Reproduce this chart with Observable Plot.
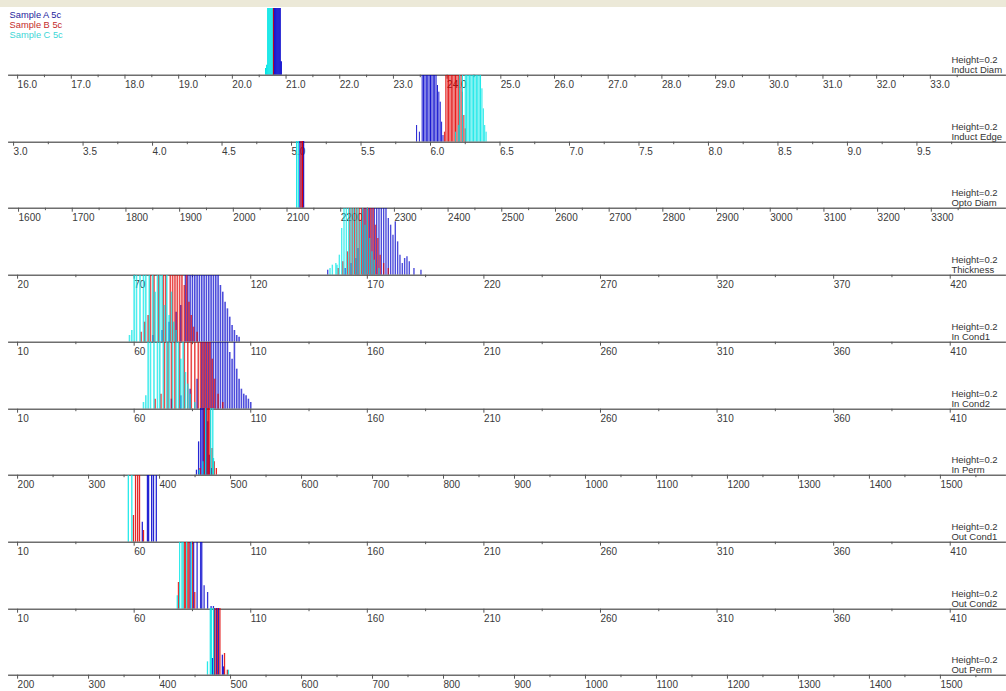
<!DOCTYPE html>
<html><head><meta charset="utf-8">
<script src="https://cdn.jsdelivr.net/npm/d3@7"></script>
<script src="https://cdn.jsdelivr.net/npm/@observablehq/plot@0.6"></script>
<style>
html,body{margin:0;padding:0;background:#fff;}
#chart{position:relative;width:1006px;height:691px;overflow:hidden;font-family:"Liberation Sans",Arial,sans-serif;}
#band{position:absolute;left:0;top:0;width:1006px;height:7px;background:#ece9d8;}
#chart svg{position:absolute;left:0;}
</style></head><body><div id="chart"><div id="band"></div></div>
<script>
// ---------- legend / labels ----------
const samples = ["Sample A 5c", "Sample B 5c", "Sample C 5c"];
const sampleColors = ["#0000cc", "#e00000", "#00e5e5"];
const legendColors = ["#23239c", "#c42a2a", "#3cd6d6"];
const heightLabel = "Height=0.2";
const yMax = 0.2;

// ---------- tick labels ----------
const ticksInductDiam = [16,17,18,19,20,21,22,23,24,25,26,27,28,29,30,31,32,33];
const ticksInductEdge = [3.0,3.5,4.0,4.5,5.0,5.5,6.0,6.5,7.0,7.5,8.0,8.5,9.0,9.5];
const ticksOptoDiam = [1600,1700,1800,1900,2000,2100,2200,2300,2400,2500,2600,2700,2800,2900,3000,3100,3200,3300];
const ticksThickness = [20,70,120,170,220,270,320,370,420];
const ticksCond = [10,60,110,160,210,260,310,360,410];
const ticksPerm = [200,300,400,500,600,700,800,900,1000,1100,1200,1300,1400,1500];

// ---------- series: [value, height] ----------
const inductDiamA = [[20.77,.2],[20.79,.2],[20.81,.2],[20.83,.2],[20.85,.2],[20.87,.2],[20.89,.2],[20.91,.04]];
const inductDiamB = [[20.76,.2]];
const inductDiamC = [[20.62,.02],[20.64,.03],[20.66,.2],[20.68,.2],[20.70,.2],[20.72,.2],[20.74,.2]];

const inductEdgeA = [[5.90,.05],[5.92,.03],[5.94,.2],[5.95,.2],[5.96,.2],[5.97,.2],[5.98,.2],[5.99,.2],[6.00,.2],[6.01,.2],[6.02,.2],[6.03,.2],[6.04,.2],[6.05,.17],[6.06,.15],[6.07,.12],[6.08,.06],[6.09,.02]];
const inductEdgeB = [[6.10,.03],[6.11,.2],[6.12,.2],[6.13,.2],[6.14,.2],[6.15,.2],[6.16,.2],[6.17,.2],[6.18,.2],[6.19,.2],[6.20,.2],[6.21,.2],[6.22,.2],[6.23,.15],[6.24,.08],[6.25,.04]];
const inductEdgeC = [[6.18,.03],[6.20,.05],[6.21,.2],[6.23,.2],[6.25,.2],[6.26,.2],[6.27,.2],[6.28,.2],[6.29,.2],[6.30,.2],[6.31,.2],[6.32,.2],[6.33,.2],[6.34,.2],[6.35,.2],[6.36,.2],[6.37,.16],[6.38,.1],[6.39,.05],[6.40,.03]];

const optoDiamA = [[2124,.2],[2128,.2],[2131,.2]];
const optoDiamB = [[2126,.2],[2129,.2]];
const optoDiamC = [[2118,.2],[2121,.2]];

const thicknessA = [[153,.015],[160.5,.02],[163,.035],[165,.05],[166,.08],[168,.2],[169,.2],[170,.2],[171,.2],[172,.2],[173,.2],[174,.2],[175,.2],[176,.2],[177,.2],[178,.2],[179,.17],[180,.15],[181,.12],[182,.16],[183,.1],[184,.06],[185,.035],[186,.05],[187,.055],[188,.04],[190,.02],[193,.015]];
const thicknessB = [[157.5,.02],[159.5,.04],[161.5,.07],[162.5,.2],[163.5,.2],[164.5,.2],[165.5,.2],[166.5,.2],[167.5,.2],[168.5,.2],[169.5,.2],[170.5,.2],[171.5,.2],[172.5,.2],[173.5,.15],[174.5,.11],[175.5,.06],[177,.035],[179,.02]];
const thicknessC = [[154,.02],[155,.03],[156.5,.035],[157,.03],[158,.06],[159,.14],[160,.2],[161,.2],[162,.2],[163,.2],[164,.2],[165,.2],[166,.2],[167,.16],[168,.2],[169,.15],[170,.2],[171,.11],[172,.07],[173,.045],[175,.02]];

const inCond1A = [[68,.02],[72,.035],[75,.06],[78,.09],[80,.11],[82,.2],[83,.2],[84,.2],[85,.2],[86,.2],[87,.2],[88,.2],[89,.2],[90,.2],[91,.2],[92,.2],[93,.2],[94,.2],[95,.2],[96,.2],[97,.17],[98,.15],[99,.12],[100,.1],[101,.075],[102,.05],[103,.035],[104,.02],[105,.015]];
const inCond1B = [[63,.03],[64.5,.06],[66,.08],[67,.2],[68.5,.2],[70.5,.2],[72.5,.2],[73.5,.2],[75.5,.2],[76.5,.2],[77.5,.2],[78.5,.2],[79.5,.2],[80.5,.2],[81.5,.17],[82.5,.2],[83.5,.12],[84.5,.08],[85.5,.045],[87,.03]];
const inCond1C = [[58,.02],[59,.035],[60,.2],[61,.2],[62.5,.2],[64,.2],[65,.2],[66.5,.2],[68,.2],[69,.15],[70,.2],[71,.2],[72,.2],[73,.11],[74,.2],[75,.08],[76,.15],[77,.06],[78,.035]];

const inCond2A = [[76,.03],[80,.04],[84,.06],[87,.09],[89,.2],[90,.2],[91,.2],[92,.2],[93,.2],[94,.2],[95,.2],[96,.2],[97,.2],[98,.2],[99,.2],[100,.2],[101,.17],[102,.15],[103,.2],[104,.12],[105,.09],[106,.06],[107,.045],[108,.04],[109,.03],[110,.02]];
const inCond2B = [[69,.03],[71.5,.045],[73,.2],[74.5,.2],[76,.2],[77.5,.2],[79.5,.2],[81.5,.2],[83,.2],[84.5,.2],[86,.2],[87.5,.2],[88.5,.2],[89.5,.2],[90.5,.2],[91.5,.2],[92.5,.2],[93.5,.15],[94.5,.09],[96,.045],[98,.02]];
const inCond2C = [[64,.02],[65,.04],[66,.2],[67,.2],[68.5,.2],[70,.2],[71,.2],[72.5,.2],[74,.2],[75,.2],[76.5,.2],[78,.2],[79,.2],[80,.15],[81,.2],[82,.11],[83,.075],[84,.045],[86,.02]];

const inPermA = [[452,.015],[455,.1],[458,.2],[460,.2],[462,.2],[464,.2],[466,.2],[468,.16],[470,.06],[473,.02]];
const inPermB = [[457,.02],[463,.2],[467,.2],[469,.2],[471,.2],[474,.08],[477,.04],[480,.02]];
const inPermC = [[456,.015],[461,.04],[465,.2],[472,.2],[475,.2],[476,.05]];

const outCond1A = [[63.5,.06],[65.7,.2],[66.2,.2],[67.5,.2],[68.3,.2],[69.5,.2]];
const outCond1B = [[59.7,.08],[60.6,.2],[61.5,.2],[62.3,.2],[64,.035]];
const outCond1C = [[57.5,.2],[59,.2]];

const outCond2A = [[84,.2],[85.5,.2],[87,.2],[88.5,.2],[89,.2],[90,.07],[91.5,.05],[93,.008],[94,.008]];
const outCond2B = [[79,.08],[81.5,.2],[82,.2],[83,.2],[83.5,.2],[85,.2],[86,.05]];
const outCond2C = [[78.5,.04],[79.5,.2],[80.5,.2],[81,.2],[82.5,.2],[84.5,.2]];

const outPermA = [[474.5,.05],[477,.2],[480,.2],[483,.2],[488.5,.06],[490,.025]];
const outPermB = [[478,.2],[481.5,.2],[485,.2],[491.5,.065],[495.5,.015]];
const outPermC = [[467.5,.04],[471.5,.2],[473,.2],[476,.2],[497,.015]];

// ---------- panel configuration ----------
const f1 = d => d.toFixed(1), f0 = d => String(d);
const panels = [
  {name: "Induct Diam", domain: [15.832, 34.417], ticks: ticksInductDiam, fmt: f1, series: [inductDiamA, inductDiamB, inductDiamC], op: 1, sw: 1.3},
  {name: "Induct Edge", domain: [2.964, 10.144], ticks: ticksInductEdge, fmt: f1, series: [inductEdgeA, inductEdgeB, inductEdgeC], op: 0.9, sw: 1},
  {name: "Opto Diam", domain: [1581.4, 3439.9], ticks: ticksOptoDiam, fmt: f0, series: [optoDiamA, optoDiamB, optoDiamC], op: 1, sw: 1.1},
  {name: "Thickness", domain: [16.14, 444.1], ticks: ticksThickness, fmt: f0, series: [thicknessA, thicknessB, thicknessC], op: 0.7, sw: 1.4},
  {name: "In Cond1", domain: [6.14, 434.1], ticks: ticksCond, fmt: f0, series: [inCond1A, inCond1B, inCond1C], op: 0.7, sw: 1.6},
  {name: "In Cond2", domain: [6.14, 434.1], ticks: ticksCond, fmt: f0, series: [inCond2A, inCond2B, inCond2C], op: 0.7, sw: 1.6},
  {name: "In Perm", domain: [187.3, 1593], ticks: ticksPerm, fmt: f0, series: [inPermA, inPermB, inPermC], op: 0.85, sw: 1.3},
  {name: "Out Cond1", domain: [6.14, 434.1], ticks: ticksCond, fmt: f0, series: [outCond1A, outCond1B, outCond1C], op: 0.85, sw: 1.3},
  {name: "Out Cond2", domain: [6.14, 434.1], ticks: ticksCond, fmt: f0, series: [outCond2A, outCond2B, outCond2C], op: 0.8, sw: 1.3},
  {name: "Out Perm", domain: [187.3, 1593], ticks: ticksPerm, fmt: f0, series: [outPermA, outPermB, outPermC], op: 0.85, sw: 1.3}
];

const W = 1006, TOP = 8, PH = 66.7, MB = 15;
const chart = document.getElementById("chart");

panels.forEach((p, k) => {
  const rows = [];
  p.series.forEach((arr, s) => arr.forEach(([v, h]) => rows.push({v, h: Math.min(h, yMax), s})));
  const minors = p.ticks.map((d, i) => i ? (d + p.ticks[i - 1]) / 2 : null).filter(d => d !== null);
  const step = p.ticks[1] - p.ticks[0];
  minors.push(p.ticks[p.ticks.length - 1] + step / 2, p.ticks[0] - step / 2);

  const marks = [
    Plot.ruleX(rows, {x: "v", y1: 0, y2: "h", stroke: d => sampleColors[d.s], strokeWidth: p.sw, strokeOpacity: p.op}),
    Plot.ruleY([0], {stroke: "#6e6e6e", strokeWidth: 1.5}),
    Plot.axisX({ticks: minors, tickSize: 2.5, tickFormat: () => "", stroke: "#555", label: null}),
    Plot.axisX({ticks: p.ticks, tickSize: 4, tickPadding: 2, textAnchor: "start", tickFormat: p.fmt, stroke: "#555", fill: "#3a3a3a", fontSize: 10, label: null}),
    Plot.text([heightLabel + "\n" + p.name], {frameAnchor: "bottom-right", textAnchor: "start", lineAnchor: "bottom", dx: -55, dy: -2.5, lineHeight: 0.98, fontSize: 9.5, fill: "#333"})
  ];
  if (k === 0) {
    samples.forEach((name, i) => marks.push(
      Plot.text([name], {frameAnchor: "top-left", textAnchor: "start", lineAnchor: "top", dx: 1, dy: 3 + i * 10, fontSize: 9.3, fill: legendColors[i]})
    ));
  }
  const svg = Plot.plot({
    width: W, height: PH + MB,
    marginLeft: 8, marginRight: 0, marginTop: 0, marginBottom: MB,
    style: {background: "transparent", overflow: "visible", fontFamily: "'Liberation Sans', Arial, sans-serif"},
    x: {domain: p.domain},
    y: {domain: [0, yMax], axis: null},
    marks
  });
  svg.style.top = (TOP + k * PH) + "px";
  chart.appendChild(svg);
});
</script>
</body></html>
